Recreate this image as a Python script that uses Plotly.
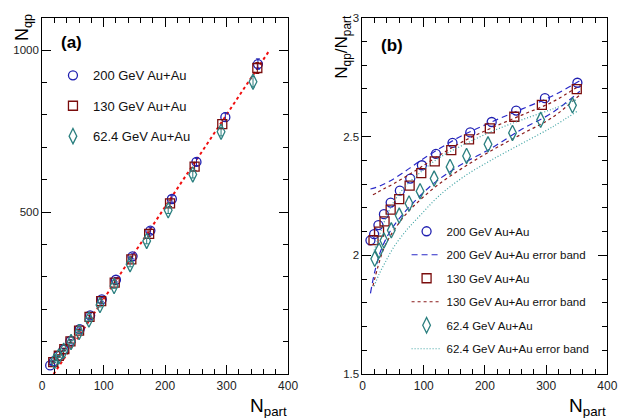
import plotly.graph_objects as go

# ---------------- data ----------------
npart_200 = [351, 298, 251, 211, 176, 147, 120, 97, 78, 61, 46, 35, 26, 19, 13]
ratio_200 = [2.726, 2.661, 2.609, 2.561, 2.517, 2.473, 2.427, 2.379, 2.323, 2.272, 2.222, 2.173, 2.127, 2.089, 2.063]
err_200 = [16, 13, 11, 10, 9, 8, 7, 6, 5, 4, 4, 3, 3, 3, 3]

npart_130 = [350, 293, 248, 208, 174, 145, 118, 96, 77, 60, 46, 36, 27, 18]
ratio_130 = [2.699, 2.633, 2.583, 2.534, 2.488, 2.443, 2.395, 2.346, 2.293, 2.236, 2.192, 2.143, 2.100, 2.064]
err_130 = [17, 14, 12, 10, 9, 8, 7, 6, 5, 4, 4, 3, 3, 3]

npart_62 = [343, 291, 245, 205, 170, 143, 117, 94, 76, 60, 47, 35, 27, 20]
ratio_62 = [2.631, 2.570, 2.515, 2.467, 2.418, 2.372, 2.323, 2.270, 2.218, 2.167, 2.105, 2.062, 2.020, 1.985]
err_62 = [16, 13, 11, 10, 9, 8, 7, 6, 5, 4, 4, 3, 3, 3]

# linear fit line (panel a)
fit_npart = [18.6, 369]
fit_slope = 2.845
fit_offset = 18.6

# error bands (panel b)
band_npart_200 = [13, 20, 30, 45, 65, 90, 120, 160, 210, 260, 310, 355]
band_up_200 = [2.279, 2.284, 2.294, 2.313, 2.345, 2.39, 2.44, 2.50, 2.56, 2.615, 2.67, 2.735]
band_lo_200 = [1.84, 1.93, 2.02, 2.10, 2.17, 2.24, 2.31, 2.38, 2.45, 2.53, 2.60, 2.69]

band_npart_130 = [17, 25, 35, 50, 70, 95, 125, 165, 210, 260, 310, 355]
band_up_130 = [2.255, 2.265, 2.28, 2.30, 2.33, 2.37, 2.42, 2.48, 2.535, 2.59, 2.645, 2.715]
band_lo_130 = [1.87, 1.95, 2.03, 2.10, 2.17, 2.235, 2.30, 2.37, 2.44, 2.51, 2.58, 2.675]

band_npart_62 = [19, 27, 37, 50, 70, 95, 125, 165, 210, 260, 310, 350]
band_up_62 = [2.02, 2.08, 2.15, 2.22, 2.29, 2.35, 2.41, 2.465, 2.52, 2.57, 2.615, 2.655]
band_lo_62 = [1.87, 1.92, 1.97, 2.03, 2.10, 2.17, 2.25, 2.33, 2.40, 2.47, 2.54, 2.605]

labels = ["200 GeV Au+Au", "130 GeV Au+Au", "62.4 GeV Au+Au"]

# ---------------- styles ----------------
C_BLUE = "#1f1fb0"
C_RED = "#7a0c0c"
C_TEAL = "#2a7f7f"
C_BAND_BLUE = "#2a2ac8"
C_BAND_RED = "#8a1c1c"
C_BAND_TEAL = "#3fa3a3"
FONT = "Liberation Sans, Arial, sans-serif"

fig = go.Figure()

series = [
    (npart_200, ratio_200, err_200, C_BLUE, "circle-open", 9, labels[0]),
    (npart_130, ratio_130, err_130, C_RED, "square-open", 9, labels[1]),
    (npart_62, ratio_62, err_62, C_TEAL, "diamond-tall-open", 11, labels[2]),
]

# fit line first (behind)
fig.add_trace(go.Scatter(
    x=fit_npart, y=[fit_slope * (n - fit_offset) for n in fit_npart],
    mode="lines", line=dict(color="#f01010", width=2, dash="dot"),
    showlegend=False, xaxis="x", yaxis="y"))

for i, (xs, rs, es, col, sym, sz, name) in enumerate(series):
    nqp = [x * r for x, r in zip(xs, rs)]
    fig.add_trace(go.Scatter(
        x=xs, y=nqp, mode="markers", name=name,
        marker=dict(symbol=sym, size=sz, color=col, line=dict(width=1.3, color=col)),
        error_y=dict(type="data", array=es, color=col, thickness=1, width=2),
        xaxis="x", yaxis="y", legend="legend", legendgroup="a%d" % i))

bands = [
    (band_npart_200, band_up_200, band_lo_200, C_BAND_BLUE, "6px,4px", labels[0] + " error band"),
    (band_npart_130, band_up_130, band_lo_130, C_BAND_RED, "3px,3px", labels[1] + " error band"),
    (band_npart_62, band_up_62, band_lo_62, C_BAND_TEAL, "1px,2px", labels[2] + " error band"),
]

for i, ((xs, rs, es, col, sym, sz, name), (bx, bu, bl, bcol, dash, bname)) in enumerate(zip(series, bands)):
    fig.add_trace(go.Scatter(
        x=xs, y=rs, mode="markers", name=name,
        marker=dict(symbol=sym, size=sz, color=col, line=dict(width=1.3, color=col)),
        xaxis="x2", yaxis="y2", legend="legend2", legendgroup="b%d" % (2 * i)))
    fig.add_trace(go.Scatter(
        x=bx, y=bu, mode="lines", name=bname, line=dict(color=bcol, width=1.2, dash=dash, shape="spline"),
        xaxis="x2", yaxis="y2", legend="legend2", legendgroup="b%d" % (2 * i + 1)))
    fig.add_trace(go.Scatter(
        x=bx, y=bl, mode="lines", name=bname, line=dict(color=bcol, width=1.2, dash=dash, shape="spline"),
        xaxis="x2", yaxis="y2", showlegend=False, legendgroup="b%d" % (2 * i + 1)))

axis_common = dict(
    showline=True, linecolor="black", linewidth=1, mirror="ticks",
    ticks="inside", ticklen=9, tickwidth=1, tickcolor="black",
    showgrid=False, zeroline=False,
    tickfont=dict(family=FONT, size=12, color="#222"),
)

W, H = 636, 418
ydom = [1 - 379 / H, 1 - 12 / H]

fig.update_layout(
    width=W, height=H,
    margin=dict(l=0, r=0, t=0, b=0),
    paper_bgcolor="white", plot_bgcolor="white",
    font=dict(family=FONT, color="black"),
    xaxis=dict(domain=[40 / W, 291 / W], range=[0, 400], tickvals=[0, 100, 200, 300, 400],
               minor=dict(tickmode="linear", tick0=0, dtick=20, ticks="inside", ticklen=5, tickcolor="black"),
               anchor="y", **axis_common),
    yaxis=dict(domain=ydom, range=[0, 1100], tickvals=[0, 500, 1000], ticktext=["", "500", "1000"],
               minor=dict(tickmode="linear", tick0=0, dtick=100, ticks="inside", ticklen=5, tickcolor="black"),
               anchor="x", **{**axis_common, "tickfont": dict(family=FONT, size=11.5, color="#222")}),
    xaxis2=dict(domain=[367 / W, 617 / W], range=[0, 400], tickvals=[0, 100, 200, 300, 400],
                minor=dict(tickmode="linear", tick0=0, dtick=20, ticks="inside", ticklen=5, tickcolor="black"),
                anchor="y2", **axis_common),
    yaxis2=dict(domain=ydom, range=[1.5, 3], tickvals=[1.5, 2, 2.5, 3], ticktext=["1.5", "2", "2.5", "3"],
                minor=dict(tickmode="linear", tick0=1.5, dtick=0.1, ticks="inside", ticklen=5, tickcolor="black"),
                anchor="x2", **{**axis_common, "tickfont": dict(family=FONT, size=11.5, color="#222")}),
    legend=dict(x=51 / W, y=1 - 56 / H, xanchor="left", yanchor="top",
                bgcolor="rgba(0,0,0,0)", font=dict(family=FONT, size=13, color="#111"),
                tracegroupgap=10.5, itemwidth=30),
    legend2=dict(x=412 / W, y=1 - 217 / H, xanchor="left", yanchor="top",
                 bgcolor="rgba(0,0,0,0)", font=dict(family=FONT, size=11.5, color="#111"),
                 tracegroupgap=4.5, itemwidth=30),
    showlegend=True,
)

annotations = [
    dict(text="<b>(a)</b>", x=57 / W, y=1 - 38 / H, xanchor="left", yanchor="middle",
         font=dict(size=17, family=FONT)),
    dict(text="<b>(b)</b>", x=384 / W, y=1 - 41 / H, xanchor="left", yanchor="middle",
         font=dict(size=17, family=FONT)),
    dict(text="N<sub>qp</sub>", x=21 / W, y=1 - 6 / H, xanchor="center", yanchor="top", textangle=-90,
         font=dict(size=18, family=FONT)),
    dict(text="N<sub>qp</sub>/N<sub>part</sub>", x=347 / W, y=1 - 7 / H, xanchor="center", yanchor="top",
         textangle=-90, font=dict(size=17, family=FONT)),
    dict(text="N<sub>part</sub>", x=292 / W, y=-9 / H, xanchor="right", yanchor="bottom",
         font=dict(size=19, family=FONT)),
    dict(text="N<sub>part</sub>", x=618 / W, y=-9 / H, xanchor="right", yanchor="bottom",
         font=dict(size=19, family=FONT)),
]
for a in annotations:
    a.update(xref="paper", yref="paper", showarrow=False)
fig.update_layout(annotations=annotations)

fig.write_html("out.html")
